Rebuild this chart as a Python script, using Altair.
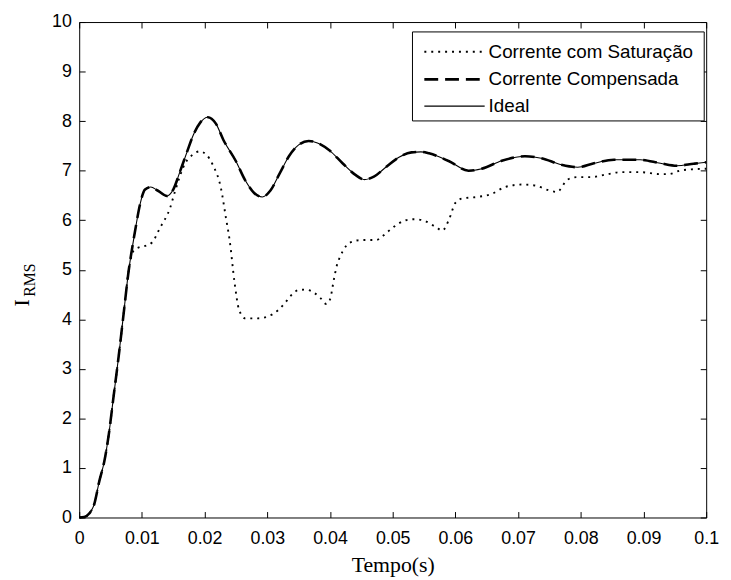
import altair as alt
import pandas as pd

# ---------------- data ----------------
t_ideal = [0, 0.0008, 0.0016, 0.0024, 0.0032, 0.004, 0.0047, 0.0055, 0.0063, 0.0071,
           0.0079, 0.0084, 0.009, 0.0097, 0.0105, 0.0114, 0.0125, 0.014, 0.015, 0.0161,
           0.0172, 0.0182, 0.0193, 0.0205, 0.0218, 0.023, 0.025, 0.0265, 0.0279, 0.0292,
           0.0305, 0.032, 0.0335, 0.035, 0.0366, 0.038, 0.04, 0.042, 0.044, 0.0455,
           0.047, 0.049, 0.051, 0.053, 0.0545, 0.0558, 0.059, 0.0621, 0.0642, 0.0674,
           0.0711, 0.0737, 0.0769, 0.0795, 0.0821, 0.0853, 0.0895, 0.0927, 0.0953, 0.098, 0.1]
i_ideal = [0, 0.01, 0.08, 0.27, 0.73, 1.13, 1.66, 2.46, 3.26, 4.13,
           4.99, 5.4, 5.85, 6.32, 6.62, 6.67, 6.6, 6.49, 6.62, 6.99,
           7.38, 7.72, 7.97, 8.08, 7.95, 7.62, 7.19, 6.8, 6.55, 6.47,
           6.6, 6.95, 7.3, 7.52, 7.6, 7.56, 7.4, 7.15, 6.92, 6.82,
           6.88, 7.08, 7.27, 7.37, 7.38, 7.35, 7.19, 7.0, 7.04, 7.2,
           7.29, 7.25, 7.12, 7.07, 7.15, 7.22, 7.22, 7.15, 7.1, 7.14, 7.17]

t_comp = list(t_ideal)
i_comp = list(i_ideal)

t_sat = [0, 0.0008, 0.0016, 0.0024, 0.0032, 0.004, 0.0047, 0.0055, 0.0063, 0.0071,
         0.0079, 0.0087, 0.0095, 0.0105, 0.0116, 0.0129, 0.0145, 0.0153, 0.0169, 0.0182,
         0.0192, 0.0203, 0.0213, 0.0226, 0.0234, 0.024, 0.0248, 0.0255, 0.0265, 0.0285,
         0.0308, 0.0327, 0.0337, 0.035, 0.0362, 0.0374, 0.0384, 0.0394, 0.04, 0.0406,
         0.0411, 0.0416, 0.0421, 0.0432, 0.045, 0.0474, 0.0485, 0.05, 0.0521, 0.0534,
         0.0548, 0.0569, 0.0579, 0.059, 0.06, 0.0611, 0.0635, 0.0658, 0.0679, 0.0706,
         0.0727, 0.075, 0.0762, 0.0779, 0.0795, 0.0816, 0.0843, 0.0864, 0.0895, 0.0927,
         0.094, 0.0958, 0.098, 0.1]
i_sat = [0, 0.01, 0.08, 0.27, 0.73, 1.13, 1.66, 2.46, 3.26, 4.13,
         4.99, 5.39, 5.45, 5.48, 5.55, 5.85, 6.25, 6.59, 7.15, 7.33,
         7.39, 7.32, 7.12, 6.65, 6.05, 5.59, 4.72, 4.19, 4.02, 4.02,
         4.1, 4.31, 4.47, 4.59, 4.6, 4.54, 4.44, 4.31, 4.4, 4.79,
         5.09, 5.26, 5.39, 5.55, 5.6, 5.6, 5.69, 5.85, 6.0, 6.02,
         6.0, 5.86, 5.79, 6.02, 6.35, 6.44, 6.47, 6.53, 6.67, 6.72,
         6.7, 6.6, 6.57, 6.82, 6.87, 6.87, 6.93, 6.97, 6.97, 6.93,
         6.93, 7.0, 7.03, 7.04]

x_ticks = [0, 0.01, 0.02, 0.03, 0.04, 0.05, 0.06, 0.07, 0.08, 0.09, 0.1]
y_ticks = [0, 1, 2, 3, 4, 5, 6, 7, 8, 9, 10]
series_names = ["Corrente com Saturação", "Corrente Compensada", "Ideal"]
x_title = "Tempo(s)"
y_title_main = "I"
y_title_sub = "RMS"

# ---------------- styles ----------------
W, H = 634, 501
SANS = "Liberation Sans, Arial, sans-serif"
SERIF = "Liberation Serif, Times New Roman, serif"
DOT = [2, 5]
DASH = [14, 7]

df_sat = pd.DataFrame({"t": t_sat, "i": i_sat})
df_comp = pd.DataFrame({"t": t_comp, "i": i_comp})
df_ideal = pd.DataFrame({"t": t_ideal, "i": i_ideal})

xs = alt.Scale(domain=[0, 0.1], nice=False, zero=False)
ys = alt.Scale(domain=[0, 10], nice=False)

tick_common = dict(labels=False, ticks=True, tickSize=6, tickColor="black", tickWidth=1,
                   domain=False, grid=False, title=None)

sat = alt.Chart(df_sat).mark_line(color="black", strokeWidth=1.9, strokeDash=DOT,
                                  interpolate="monotone").encode(
    x=alt.X("t:Q", scale=xs, axis=alt.Axis(
        orient="bottom", values=x_ticks, format="~g", ticks=False, domain=False, grid=False,
        labelFont=SANS, labelFontSize=18, labelColor="black", labelPadding=12,
        labelFlush=False, labelOverlap=False,
        title=x_title, titleFont=SERIF, titleFontSize=22, titleFontWeight="normal",
        titleColor="black", titlePadding=8)),
    y=alt.Y("i:Q", scale=ys, axis=alt.Axis(
        orient="left", values=y_ticks, ticks=False, domain=False, grid=False,
        labelFont=SANS, labelFontSize=18, labelColor="black", labelPadding=8,
        labelFlush=False, labelOverlap=False, title=None)),
)

comp = alt.Chart(df_comp).mark_line(color="black", strokeWidth=2.6, strokeDash=DASH,
                                    interpolate="monotone").encode(
    x=alt.X("t:Q", scale=xs, axis=alt.Axis(orient="top", offset=-H, values=x_ticks, **tick_common)),
    y=alt.Y("i:Q", scale=ys, axis=alt.Axis(orient="right", offset=-W, values=y_ticks, **tick_common)),
)

ideal = alt.Chart(df_ideal).mark_line(color="black", strokeWidth=1.1,
                                      interpolate="monotone").encode(
    x=alt.X("t:Q", scale=xs, axis=alt.Axis(orient="bottom", offset=-H, values=x_ticks, **tick_common)),
    y=alt.Y("i:Q", scale=ys, axis=alt.Axis(orient="left", offset=-W, values=y_ticks, **tick_common)),
)

one = pd.DataFrame({"k": [0]})

# y-axis title with subscript
ylab_main = alt.Chart(one).mark_text(text=y_title_main, font=SERIF, fontSize=22, angle=270,
                                     align="center", baseline="middle", color="black").encode(
    x=alt.value(-58), y=alt.value(284))
ylab_sub = alt.Chart(one).mark_text(text=y_title_sub, font=SERIF, fontSize=16, angle=270,
                                    align="center", baseline="middle", color="black").encode(
    x=alt.value(-50), y=alt.value(261))

# legend box
leg_box = alt.Chart(one).mark_rect(fill="white", stroke="black", strokeWidth=1).encode(
    x=alt.value(337), x2=alt.value(632), y=alt.value(10), y2=alt.value(100))
row_y = [30, 58, 85]
leg_layers = [leg_box]
styles = [dict(strokeDash=DOT, strokeWidth=1.9), dict(strokeDash=DASH, strokeWidth=2.6),
          dict(strokeWidth=1.1)]
for name, ry, st in zip(series_names, row_y, styles):
    leg_layers.append(alt.Chart(one).mark_rule(color="black", **st).encode(
        x=alt.value(349), x2=alt.value(410), y=alt.value(ry)))
    leg_layers.append(alt.Chart(one).mark_text(text=name, font=SANS, fontSize=19, align="left",
                                               baseline="middle", color="black").encode(
        x=alt.value(414), y=alt.value(ry)))

chart = alt.layer(sat, comp, ideal, ylab_main, ylab_sub, *leg_layers).resolve_axis(
    x="independent", y="independent"
).properties(
    width=W, height=H,
    autosize=alt.AutoSizeParams(type="none"),
    padding={"left": 72, "top": 11, "right": 17, "bottom": 60},
    background="white",
).configure_view(stroke="black", strokeWidth=1)

chart.save("out.html", embed_options={"renderer": "svg", "actions": False})
